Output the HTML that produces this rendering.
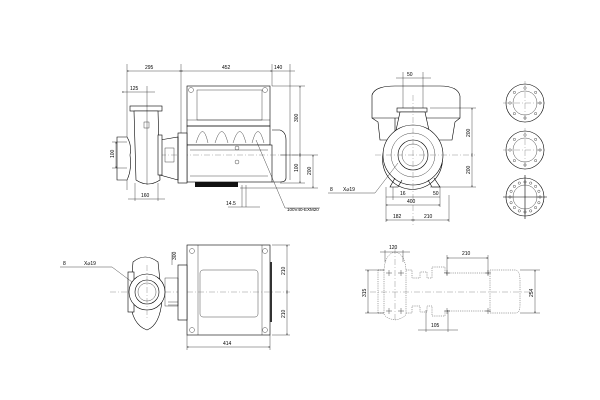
<!DOCTYPE html>
<html><head><meta charset="utf-8"><style>
html,body{margin:0;padding:0;background:#fff;width:600px;height:400px;overflow:hidden}
svg{display:block}
text{font-family:"Liberation Sans",sans-serif;font-size:5px;fill:#000}
.l{stroke:#000;stroke-width:0.6;fill:none}
.t{stroke:#000;stroke-width:0.35;fill:none}
.g{stroke:#666;stroke-width:0.5;fill:none}
.c{stroke:#777;stroke-width:0.4;fill:none;stroke-dasharray:6 2 1 2}
.d{stroke:#555;stroke-width:0.5;fill:none;stroke-dasharray:1.2 1}
.f{fill:#fff;stroke:#000;stroke-width:0.6}
</style></head><body>
<svg width="600" height="400" viewBox="0 0 600 400" xmlns="http://www.w3.org/2000/svg">
<defs><marker id="a" viewBox="0 0 6 6" refX="6" refY="3" markerWidth="4" markerHeight="4" orient="auto-start-reverse"><path d="M0,0L6,3L0,6z" fill="#000"/></marker></defs>

<!-- ===== TOP LEFT VIEW ===== -->
<g>
<line class="t" x1="127" y1="64" x2="127" y2="190"/>
<line class="t" x1="181" y1="64" x2="181" y2="140"/>
<line class="t" x1="272" y1="64" x2="272" y2="86"/>
<line class="t" x1="290" y1="64" x2="290" y2="180"/>
<line class="t" x1="127" y1="71" x2="181" y2="71" marker-start="url(#a)" marker-end="url(#a)"/>
<line class="t" x1="181" y1="71" x2="272" y2="71" marker-start="url(#a)" marker-end="url(#a)"/>
<line class="t" x1="272" y1="71" x2="295" y2="71"/>
<text x="145" y="69">295</text><text x="222" y="69">452</text><text x="274" y="69">140</text>
<line class="t" x1="122" y1="92" x2="155" y2="92" marker-start="url(#a)"/>
<line class="t" x1="147" y1="86" x2="147" y2="105"/>
<text x="130" y="90">125</text>
<!-- motor top box -->
<rect class="f" x="187" y="86" width="83" height="40"/>
<rect class="t" x="197" y="90" width="65" height="30"/>
<circle class="t" cx="191" cy="90" r="2.5"/><circle class="t" cx="265" cy="90" r="2.5"/>
<line class="t" x1="187" y1="120" x2="270" y2="120"/>
<!-- fins domes -->
<path class="l" d="M187,126 L270,126 L270,145 L187,145 Z" fill="#fff"/>
<path class="t" d="M196,143 Q203,120 208,143 M215,143 Q222,120 228,143 M233,143 Q240,120 246,143 M252,143 Q258,120 264,143"/>
<!-- motor body -->
<rect class="f" x="187" y="145" width="85" height="37"/>
<path class="l" d="M272,130 L280,130 Q286,132 286,140 L286,178 Q286,182 280,182 L272,182"/>
<line class="t" x1="190" y1="150" x2="268" y2="150"/><line class="t" x1="190" y1="176" x2="268" y2="176"/>
<rect x="195" y="182" width="43" height="5" fill="#111"/>
<circle class="t" cx="237" cy="148" r="2"/><circle class="t" cx="237" cy="162" r="2"/>
<line class="c" x1="160" y1="155" x2="300" y2="155"/>
<!-- adapter -->
<rect class="f" x="178" y="133" width="9" height="50"/>
<path class="l" d="M160,140 L178,137 L178,180 L160,175 Z" fill="#fff"/>
<rect class="t" x="165" y="148" width="9" height="14"/>
<!-- pump casing -->
<rect class="f" x="130" y="106" width="32" height="5"/>
<path class="f" d="M134,111 L158,111 L160,180 Q148,188 136,180 Z"/>
<rect class="f" x="158" y="135" width="4" height="40"/>
<path class="f" d="M117,137 L127,137 Q132,145 130,155 Q132,170 127,180 L117,180 Z"/>
<line class="t" x1="147" y1="105" x2="147" y2="185"/>
<rect class="t" x="144" y="122" width="5" height="6"/>
<line class="t" x1="112" y1="142" x2="127" y2="142"/><line class="t" x1="112" y1="168" x2="127" y2="168"/>
<line class="t" x1="116" y1="142" x2="116" y2="168" marker-start="url(#a)" marker-end="url(#a)"/>
<text x="114" y="158" transform="rotate(-90 114 158)">100</text>
<line class="t" x1="135" y1="183" x2="135" y2="201"/><line class="t" x1="158" y1="183" x2="158" y2="201"/>
<line class="t" x1="128" y1="199" x2="165" y2="199"/>
<text x="141" y="197">160</text>
<!-- right dims -->
<line class="t" x1="272" y1="86" x2="305" y2="86"/>
<line class="t" x1="280" y1="155" x2="318" y2="155"/>
<line class="t" x1="280" y1="183" x2="305" y2="183"/>
<line class="t" x1="240" y1="188" x2="318" y2="188"/>
<line class="t" x1="300" y1="86" x2="300" y2="155" marker-start="url(#a)" marker-end="url(#a)"/>
<line class="t" x1="300" y1="155" x2="300" y2="183" marker-start="url(#a)" marker-end="url(#a)"/>
<line class="t" x1="313" y1="155" x2="313" y2="188" marker-start="url(#a)" marker-end="url(#a)"/>
<text x="298" y="122" transform="rotate(-90 298 122)">300</text>
<text x="298" y="172" transform="rotate(-90 298 172)">100</text>
<text x="311" y="175" transform="rotate(-90 311 175)">200</text>
<line class="t" x1="242" y1="185" x2="242" y2="207"/><line class="t" x1="246" y1="185" x2="246" y2="207"/>
<line class="t" x1="228" y1="207" x2="260" y2="207"/>
<text x="226" y="205">14.5</text>
<line class="t" x1="256" y1="140" x2="285" y2="208"/>
<line class="t" x1="285" y1="208" x2="320" y2="208"/>
<text x="287" y="211" style="font-size:4.5px">100V40-EXM20</text>
</g>

<!-- ===== TOP RIGHT VIEW ===== -->
<g>
<path class="f" d="M372,95 Q375,86 395,86 L440,86 Q458,86 460,96 L460,118 L372,118 Z"/>
<path class="l" d="M372,118 L378,122 L380,140 L395,140 L395,118 M460,118 L455,122 L452,140 L436,140"/>
<rect class="f" x="397" y="108" width="30" height="4"/>
<path class="f" d="M400,112 L425,112 L430,135 A30,30 0 1,1 395,135 Z"/>
<circle class="f" cx="413" cy="155" r="30"/>
<circle class="t" cx="413" cy="155" r="22"/>
<circle class="l" cx="413" cy="155" r="15"/>
<circle class="t" cx="413" cy="155" r="11"/>
<line class="c" x1="375" y1="155" x2="475" y2="155"/>
<line class="c" x1="413" y1="95" x2="413" y2="225"/>
<path class="l" d="M395,178 L390,187 L398,187 L402,180 M428,180 L432,187 L440,187 L434,178"/>
<line class="t" x1="403" y1="72" x2="403" y2="108"/><line class="t" x1="423" y1="72" x2="423" y2="108"/>
<line class="t" x1="396" y1="78" x2="431" y2="78"/>
<text x="407" y="76">50</text>
<line class="t" x1="430" y1="108" x2="476" y2="108"/>
<line class="t" x1="430" y1="187" x2="476" y2="187"/>
<line class="t" x1="472" y1="108" x2="472" y2="155" marker-start="url(#a)" marker-end="url(#a)"/>
<line class="t" x1="472" y1="155" x2="472" y2="187" marker-start="url(#a)" marker-end="url(#a)"/>
<text x="470" y="137" transform="rotate(-90 470 137)">200</text>
<text x="470" y="174" transform="rotate(-90 470 174)">200</text>
<line class="t" x1="386" y1="187" x2="386" y2="222"/><line class="t" x1="440" y1="187" x2="440" y2="207"/>
<line class="t" x1="449" y1="195" x2="449" y2="222"/><line class="t" x1="393" y1="187" x2="393" y2="200"/>
<line class="t" x1="386" y1="197" x2="440" y2="197"/>
<text x="400" y="195">16</text><text x="433" y="195">50</text>
<line class="t" x1="386" y1="205" x2="440" y2="205" marker-start="url(#a)" marker-end="url(#a)"/>
<text x="407" y="203">400</text>
<line class="t" x1="386" y1="220" x2="413" y2="220" marker-start="url(#a)" marker-end="url(#a)"/>
<line class="t" x1="413" y1="220" x2="449" y2="220" marker-start="url(#a)" marker-end="url(#a)"/>
<text x="393" y="218">182</text><text x="424" y="218">210</text>
<line class="t" x1="398" y1="163" x2="375" y2="193"/>
<line class="t" x1="328" y1="193" x2="375" y2="193"/>
<text x="330" y="191">8</text><text x="343" y="191">X⌀19</text>
<!-- flanges -->
<g>
<circle class="l" cx="525" cy="103" r="19"/><circle class="t" cx="525" cy="103" r="12"/>
<line class="c" x1="503" y1="103" x2="547" y2="103"/><line class="c" x1="525" y1="81" x2="525" y2="125"/>
<circle class="l" cx="525" cy="150" r="19"/><circle class="t" cx="525" cy="150" r="12"/>
<line class="c" x1="503" y1="150" x2="547" y2="150"/><line class="c" x1="525" y1="128" x2="525" y2="172"/>
<circle class="l" cx="525" cy="197" r="19"/><circle class="t" cx="525" cy="197" r="12"/>
<line class="l" x1="503" y1="197" x2="547" y2="197"/><line class="l" x1="525" y1="175" x2="525" y2="219"/>
<g class="t">
<circle cx="540" cy="103" r="1.2"/><circle cx="510" cy="103" r="1.2"/><circle cx="525" cy="88" r="1.2"/><circle cx="525" cy="118" r="1.2"/>
<circle cx="535.6" cy="92.4" r="1.2"/><circle cx="514.4" cy="92.4" r="1.2"/><circle cx="535.6" cy="113.6" r="1.2"/><circle cx="514.4" cy="113.6" r="1.2"/>
<circle cx="540" cy="150" r="1.2"/><circle cx="510" cy="150" r="1.2"/><circle cx="525" cy="135" r="1.2"/><circle cx="525" cy="165" r="1.2"/>
<circle cx="535.6" cy="139.4" r="1.2"/><circle cx="514.4" cy="139.4" r="1.2"/><circle cx="535.6" cy="160.6" r="1.2"/><circle cx="514.4" cy="160.6" r="1.2"/>
<circle cx="540" cy="197" r="1.2"/><circle cx="510" cy="197" r="1.2"/><circle cx="525" cy="182" r="1.2"/><circle cx="525" cy="212" r="1.2"/>
<circle cx="535.6" cy="186.4" r="1.2"/><circle cx="514.4" cy="186.4" r="1.2"/><circle cx="535.6" cy="207.6" r="1.2"/><circle cx="514.4" cy="207.6" r="1.2"/>
<circle cx="530.7" cy="183.1" r="1.2"/><circle cx="519.3" cy="183.1" r="1.2"/><circle cx="530.7" cy="210.9" r="1.2"/><circle cx="519.3" cy="210.9" r="1.2"/>
<circle cx="538.9" cy="191.3" r="1.2"/><circle cx="511.1" cy="191.3" r="1.2"/><circle cx="538.9" cy="202.7" r="1.2"/><circle cx="511.1" cy="202.7" r="1.2"/>
</g>
</g>
</g>

<!-- ===== BOTTOM LEFT VIEW ===== -->
<g>
<rect class="f" x="187" y="245" width="83" height="90"/>
<line class="t" x1="198" y1="245" x2="198" y2="335"/><line class="t" x1="262" y1="245" x2="262" y2="335"/>
<rect class="t" x="200" y="270" width="58" height="47" rx="3"/>
<rect x="270" y="262" width="2" height="60" fill="#333"/>
<circle class="t" cx="192" cy="251" r="2.5"/><circle class="t" cx="265" cy="251" r="2.5"/>
<circle class="t" cx="192" cy="330" r="2.5"/><circle class="t" cx="265" cy="330" r="2.5"/>
<line class="c" x1="110" y1="292" x2="290" y2="292"/>
<rect class="f" x="178" y="265" width="9" height="55"/>
<rect class="t" x="165" y="278" width="13" height="28"/>
<line class="t" x1="168" y1="302" x2="178" y2="302"/><line class="t" x1="168" y1="305" x2="178" y2="305"/>
<path class="f" d="M133,262 Q145,252 158,262 L162,300 Q160,325 147,330 Q132,325 130,300 Z"/>
<rect class="f" x="128" y="272" width="6" height="40"/>
<circle class="f" cx="147" cy="292" r="18"/>
<circle class="l" cx="147" cy="292" r="12"/>
<circle class="t" cx="147" cy="292" r="9"/>
<line class="c" x1="147" y1="265" x2="147" y2="320"/>
<line class="t" x1="132" y1="282" x2="112" y2="267"/>
<line class="t" x1="60" y1="267" x2="112" y2="267"/>
<text x="63" y="265">8</text><text x="84" y="265">X⌀19</text>
<line class="t" x1="172" y1="252" x2="172" y2="265"/>
<text x="176" y="260" transform="rotate(-90 176 260)">300</text>
<line class="t" x1="272" y1="245" x2="290" y2="245"/><line class="t" x1="272" y1="335" x2="290" y2="335"/>
<line class="t" x1="287" y1="245" x2="287" y2="292" marker-start="url(#a)" marker-end="url(#a)"/>
<line class="t" x1="287" y1="292" x2="287" y2="335" marker-start="url(#a)" marker-end="url(#a)"/>
<text x="285" y="275" transform="rotate(-90 285 275)">210</text>
<text x="285" y="318" transform="rotate(-90 285 318)">210</text>
<line class="t" x1="187" y1="335" x2="187" y2="350"/><line class="t" x1="270" y1="335" x2="270" y2="350"/>
<line class="t" x1="187" y1="347" x2="270" y2="347" marker-start="url(#a)" marker-end="url(#a)"/>
<text x="223" y="345">414</text>
</g>

<!-- ===== BOTTOM RIGHT VIEW ===== -->
<g>
<line class="c" x1="370" y1="292" x2="530" y2="292"/>
<line class="c" x1="395" y1="248" x2="395" y2="320"/>
<path class="d" d="M384,270 Q385,254 395,252 Q405,254 406,270 L406,314 Q405,318 395,320 Q385,318 384,314 Z"/>
<path class="d" d="M378,270 L384,270 M406,270 L412,270 L412,278 L420,278 L420,272 L427,272 L427,278 L432,278 L432,267 L445,267 L445,273 L490,273 M378,313 L384,313 M406,313 L412,313 L412,306 L420,306 L420,312 L427,312 L427,306 L432,306 L432,316 L445,316 L445,311 L490,311"/>
<path class="d" d="M378,270 L378,313 M490,270 L516,270 Q520,272 520,280 L520,305 Q520,313 516,313 L490,313 Z"/>
<line class="t" x1="365" y1="270" x2="384" y2="270"/><line class="t" x1="365" y1="313" x2="384" y2="313"/>
<line class="t" x1="368" y1="270" x2="368" y2="313" marker-start="url(#a)" marker-end="url(#a)"/>
<text x="366" y="297" transform="rotate(-90 366 297)">315</text>
<line class="t" x1="385" y1="250" x2="385" y2="262"/><line class="t" x1="403" y1="250" x2="403" y2="262"/>
<line class="t" x1="380" y1="252" x2="410" y2="252"/>
<text x="389" y="249">120</text>
<line class="t" x1="447" y1="255" x2="447" y2="275"/><line class="t" x1="488" y1="255" x2="488" y2="275"/>
<line class="t" x1="447" y1="258" x2="488" y2="258" marker-start="url(#a)" marker-end="url(#a)"/>
<text x="462" y="255">210</text>
<line class="t" x1="426" y1="310" x2="426" y2="332"/><line class="t" x1="448" y1="310" x2="448" y2="332"/>
<line class="t" x1="418" y1="330" x2="458" y2="330"/>
<text x="431" y="327">105</text>
<line class="t" x1="520" y1="270" x2="540" y2="270"/><line class="t" x1="520" y1="313" x2="540" y2="313"/>
<line class="t" x1="535" y1="270" x2="535" y2="313" marker-start="url(#a)" marker-end="url(#a)"/>
<text x="533" y="297" transform="rotate(-90 533 297)">254</text>
<g class="t"><path d="M389,270 l0,6 M386,273 l6,0 M401,270 l0,6 M398,273 l6,0 M389,308 l0,6 M386,311 l6,0 M401,308 l0,6 M398,311 l6,0 M447,270 l0,6 M444,273 l6,0 M488,270 l0,6 M485,273 l6,0 M447,308 l0,6 M444,311 l6,0 M488,308 l0,6 M485,311 l6,0"/></g>
</g>
</svg>
</body></html>
